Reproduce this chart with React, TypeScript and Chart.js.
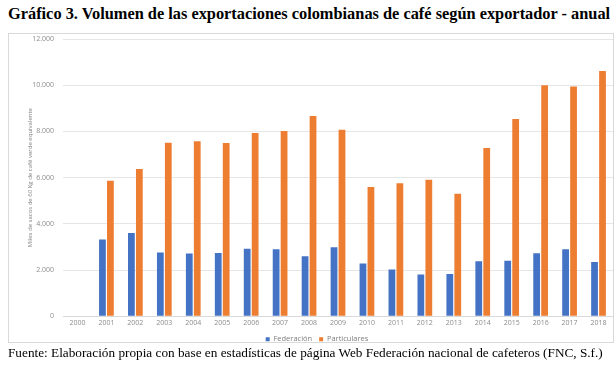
import React, { useEffect, useRef } from "react";
import { Chart, registerables } from "chart.js";

Chart.register(...registerables);

const years = ["2000","2001","2002","2003","2004","2005","2006","2007","2008","2009","2010","2011","2012","2013","2014","2015","2016","2017","2018"];
const federacion = [null, 3320, 3600, 2760, 2720, 2740, 2920, 2900, 2600, 2990, 2280, 2020, 1810, 1830, 2380, 2400, 2730, 2900, 2350];
const particulares = [null, 5860, 6370, 7510, 7570, 7500, 7930, 8020, 8670, 8070, 5590, 5760, 5910, 5300, 7280, 8540, 10000, 9940, 10620];
const yTicks = [0, 2000, 4000, 6000, 8000, 10000, 12000];

const fmt = (v: number) => v.toLocaleString("de-DE");

export default function App() {
  const ref = useRef<HTMLCanvasElement | null>(null);
  useEffect(() => {
    if (!ref.current) return;
    const chart = new Chart(ref.current, {
      type: "bar",
      data: {
        labels: years,
        datasets: [
          { label: "Federación", data: federacion as any, backgroundColor: "#4472C4", categoryPercentage: 0.55, barPercentage: 0.85 },
          { label: "Particulares", data: particulares as any, backgroundColor: "#ED7D31", categoryPercentage: 0.55, barPercentage: 0.85 },
        ],
      },
      options: {
        animation: false,
        responsive: false,
        maintainAspectRatio: false,
        layout: { padding: { left: 13, right: 1, top: 0, bottom: 0 } },
        plugins: {
          legend: {
            position: "bottom",
            labels: {
              boxWidth: 4,
              boxHeight: 4,
              padding: 7,
              color: "#7f7f7f",
              font: { family: "'Open Sans', sans-serif", size: 7.5 },
            },
          },
          tooltip: { enabled: false },
        },
        scales: {
          x: {
            grid: { display: false, drawTicks: false },
            border: { color: "#d9d9d9" },
            ticks: { color: "#8c8c8c", font: { family: "'Open Sans', sans-serif", size: 7 }, padding: 3, maxRotation: 0 },
            afterFit: (s: any) => { s.height = 12.25; },
          },
          y: {
            min: 0,
            max: 12000,
            afterBuildTicks: (s: any) => { s.ticks = yTicks.map((v) => ({ value: v })); },
            grid: { color: "#e6e6e6", drawTicks: false },
            border: { display: false },
            ticks: { color: "#8c8c8c", font: { family: "'Open Sans', sans-serif", size: 7 }, padding: 9, callback: (v: any) => fmt(Number(v)) },
            title: { display: true, text: "Miles de sacos de 60 Kg de café verde equivalente", color: "#808080", font: { family: "'Open Sans', sans-serif", size: 6 }, padding: { top: 5.4, bottom: 0 } },
            afterFit: (s: any) => { s.width = 42; s.paddingTop = 7; s.paddingBottom = 0; },
          },
        },
      },
    });
    return () => chart.destroy();
  }, []);

  return (
    <div style={{ position: "absolute", left: 0, top: 0, width: 615, height: 367, background: "#fff", overflow: "hidden" }}>
      <div style={{ position: "absolute", left: 8, top: 4, whiteSpace: "nowrap", fontFamily: "'Liberation Serif', 'Times New Roman', serif", fontWeight: "bold", fontSize: 16.35, color: "#000" }}>
        Gráfico 3. Volumen de las exportaciones colombianas de café según exportador - anual
      </div>
      <div style={{ position: "absolute", left: 8, top: 33, width: 606, height: 310, border: "1px solid #d9d9d9", boxSizing: "border-box" }} />
      <canvas ref={ref} width={606} height={321} style={{ position: "absolute", left: 8, top: 32, width: 606, height: 321 }} />
      <div style={{ position: "absolute", left: 8, top: 345, whiteSpace: "nowrap", fontFamily: "'Liberation Serif', 'Times New Roman', serif", fontSize: 13.25, color: "#000" }}>
        Fuente: Elaboración propia con base en estadísticas de página Web Federación nacional de cafeteros (FNC, S.f.)
      </div>
    </div>
  );
}
